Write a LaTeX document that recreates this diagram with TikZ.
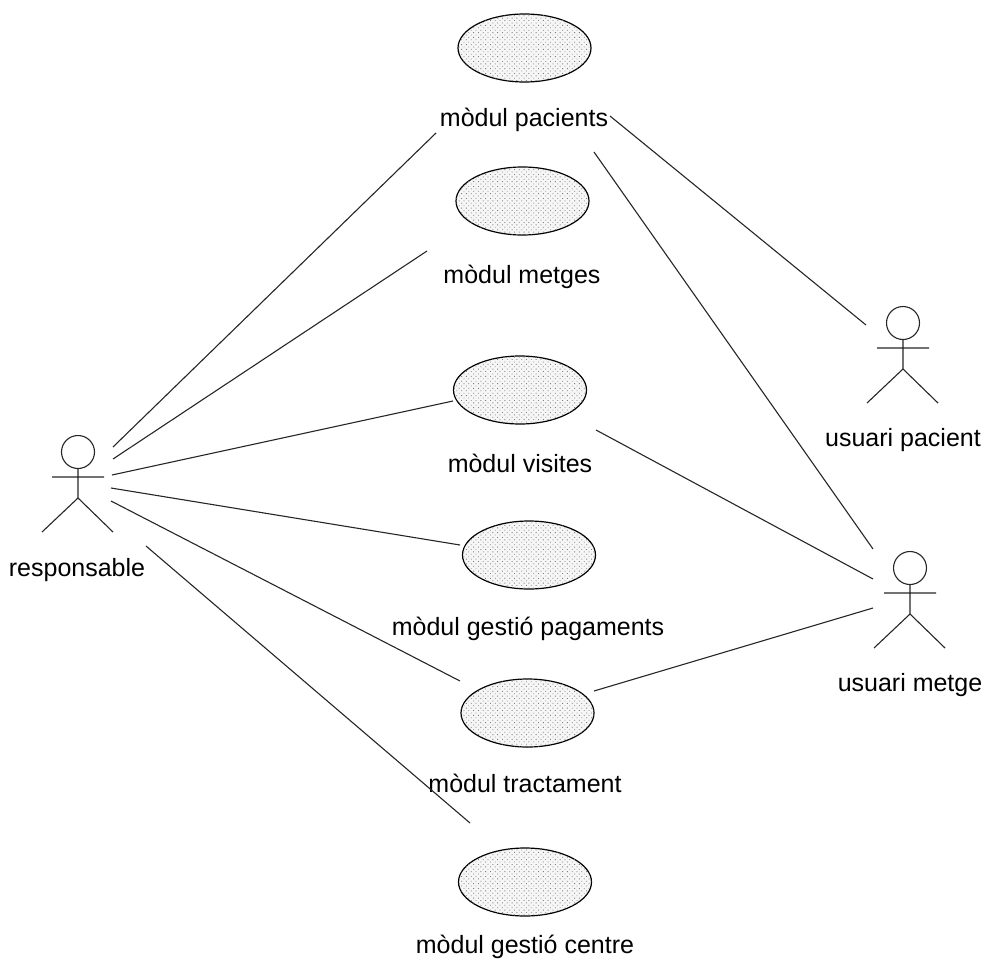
\documentclass[tikz,border=0pt]{standalone}
\usepackage{fontspec}
\setmainfont{Liberation Sans}
\usetikzlibrary{patterns.meta,shapes.geometric}
\tikzset{
  x=1pt,y=-1pt,
  usecase/.style={ellipse,draw=black,line width=1.2pt,inner sep=0pt,minimum width=133pt,minimum height=68pt,fill=gray!7,postaction={pattern={Dots[distance=3.4pt,radius=0.6pt,angle=45]},pattern color=black!50}},
  lbl/.style={font=\fontsize{25}{28}\selectfont,text=black,inner sep=0pt,anchor=base},
  assoc/.style={line width=1.1pt,draw=black!85},
  actor/.pic={
    \draw[line width=1.1pt,draw=black!85] (0,0) circle (16.5);
    \draw[line width=1.1pt,draw=black!85] (0,16.5) -- (0,46) (-26,25) -- (26,25) (-36,80) -- (0,46) -- (35,80);
  }
}
\begin{document}
\begin{tikzpicture}
\useasboundingbox (0,0) rectangle (984,963);
% use cases
\node[usecase] (ucA) at (524.5,48) {};
\node[usecase] (ucB) at (522.5,201) {};
\node[usecase] (ucC) at (520,390) {};
\node[usecase] (ucD) at (529,555) {};
\node[usecase] (ucE) at (527.5,713) {};
\node[usecase] (ucF) at (525,882) {};
% use-case labels
\node[lbl] (lA) at (524,126) {mòdul pacients};
\node[lbl] (lB) at (522,283) {mòdul metges};
\node[lbl] (lC) at (520,472) {mòdul visites};
\node[lbl] (lD) at (528,635) {mòdul gestió pagaments};
\node[lbl] (lE) at (525,792) {mòdul tractament};
\node[lbl] (lF) at (525,953) {mòdul gestió centre};
% actors
\pic at (78,452) {actor};
\pic at (903,323) {actor};
\pic at (910,568) {actor};
\node[lbl] (lR) at (77,576) {responsable};
\node[lbl] (lP) at (903,446) {usuari pacient};
\node[lbl] (lM) at (910,691) {usuari metge};
% connector ends
\coordinate (r1) at (113,447); \coordinate (a1) at (436,133);
\coordinate (r2) at (113,459); \coordinate (b1) at (427,251);
\coordinate (r3) at (112,475); \coordinate (c1) at (453,401);
\coordinate (r4) at (111,488); \coordinate (d1) at (460,545);
\coordinate (r5) at (111,501); \coordinate (e1) at (460,681);
\coordinate (r6) at (146,546); \coordinate (f1) at (470,823);
\coordinate (a2) at (610,116); \coordinate (p1) at (866,325);
\coordinate (a3) at (594,152); \coordinate (m1) at (873,549);
\coordinate (c2) at (596,430); \coordinate (m2) at (873,579);
\coordinate (e2) at (594,691); \coordinate (m3) at (873,608);
% connectors
\draw[assoc] (r1) -- (a1);
\draw[assoc] (r2) -- (b1);
\draw[assoc] (r3) -- (c1);
\draw[assoc] (r4) -- (d1);
\draw[assoc] (r5) -- (e1);
\draw[assoc] (r6) -- (f1);
\draw[assoc] (a2) -- (p1);
\draw[assoc] (a3) -- (m1);
\draw[assoc] (c2) -- (m2);
\draw[assoc] (e2) -- (m3);
\end{tikzpicture}
\end{document}
